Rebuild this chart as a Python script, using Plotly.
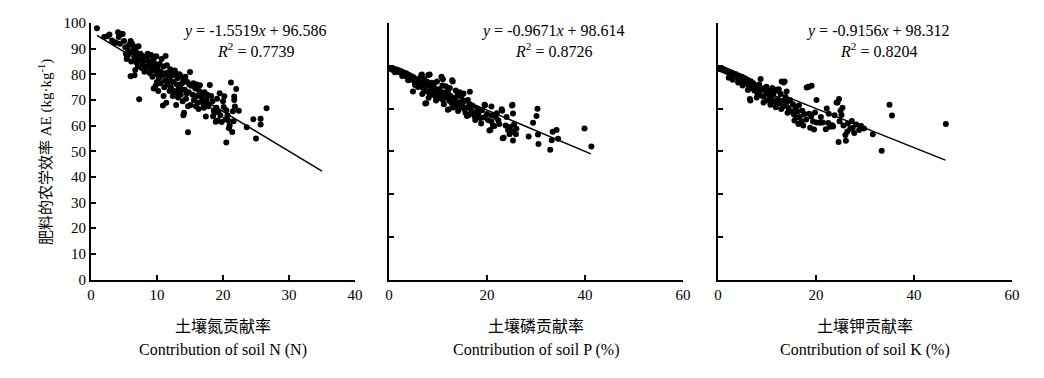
import plotly.graph_objects as go

# ---------------- data ----------------
n_x = [0.9, 2.0, 2.5, 2.8, 3.2, 3.6, 3.8, 4.1, 4.4, 4.5, 4.8, 4.2, 5.0, 5.2, 5.3, 5.5, 5.6, 5.8, 6.0, 6.2,
       6.3, 6.5, 6.6, 6.8, 7.0, 7.2, 7.3, 7.5, 7.6, 7.8, 8.0, 8.2, 8.4, 8.5, 8.7, 9.0, 9.2, 9.4, 9.5, 9.7,
       9.9, 10.0, 10.1, 10.3, 10.4, 10.6, 10.8, 11.0, 11.2, 11.3, 11.4, 11.6, 11.8, 12.0, 12.1, 12.3, 12.5, 12.6, 12.8, 13.0,
       13.1, 13.3, 13.5, 13.6, 13.8, 14.0, 14.2, 14.4, 14.6, 14.8, 15.0, 15.2, 15.4, 15.6, 15.8, 16.0, 16.2, 16.5, 16.6, 16.8,
       17.0, 17.2, 17.4, 17.5, 17.8, 18.0, 18.2, 18.5, 18.7, 19.0, 19.2, 19.5, 19.8, 20.0, 20.1, 20.2, 20.4, 20.5, 20.5, 20.7,
       21.0, 21.2, 21.4, 21.5, 21.6, 21.7, 21.7, 21.8, 22.0, 22.4, 23.6, 24.6, 25.0, 25.7, 25.7, 26.6,
       6.0, 6.6, 6.7, 7.3, 9.5, 9.8, 10.2, 10.9, 11.4, 11.0, 12.9, 14.0, 14.1, 14.7, 14.7, 17.1, 17.8, 18.6,
       5.4, 6.1, 6.9, 7.7, 8.1, 8.9, 9.3, 10.5, 11.1, 11.9, 12.4, 13.2, 13.9, 15.1, 15.9, 16.3, 8.6, 9.1, 10.7, 11.5,
       12.2, 12.7, 13.4, 14.3, 14.9, 16.4, 17.6, 18.4, 19.3, 19.6, 20.8, 20.9, 18.9, 19.1, 13.7, 12.0, 10.0, 11.7, 13.0, 14.5,
       15.5, 16.1, 16.9, 9.6, 8.8, 7.9, 6.4, 5.9, 7.1]
n_y = [98.0, 94.5, 94.8, 95.5, 93.2, 92.5, 92.3, 96.4, 91.9, 95.6, 95.7, 94.5, 93.0, 90.5, 88.0, 87.0, 89.5, 91.5, 93.0, 92.0,
       88.5, 90.0, 86.5, 89.0, 87.5, 90.9, 85.5, 88.0, 86.0, 84.0, 87.0, 85.5, 83.0, 86.5, 82.5, 85.0, 83.5, 81.5, 86.0, 84.0,
       87.0, 80.0, 82.5, 78.5, 84.0, 81.0, 79.5, 83.0, 77.5, 87.1, 80.5, 76.0, 78.5, 82.0, 75.0, 79.5, 77.0, 73.5, 80.5, 76.0,
       78.5, 74.5, 79.5, 72.0, 76.5, 78.0, 74.0, 70.5, 77.0, 73.0, 80.9, 75.5, 72.0, 70.0, 74.5, 76.0, 69.0, 75.7, 72.5, 71.0,
       68.5, 73.0, 63.5, 70.0, 68.0, 75.8, 71.5, 63.6, 65.0, 67.0, 62.0, 72.6, 61.4, 69.5, 67.3, 71.4, 62.5, 53.4, 66.0, 64.0,
       60.0, 76.8, 57.5, 65.6, 61.7, 71.3, 70.0, 67.4, 74.3, 65.8, 59.4, 62.5, 55.0, 62.7, 60.4, 66.8,
       79.2, 79.6, 81.7, 70.3, 74.5, 75.5, 73.5, 67.8, 68.9, 71.5, 68.0, 64.0, 65.0, 67.5, 57.4, 67.0, 67.5, 66.0,
       86.0, 85.0, 84.5, 82.5, 81.0, 80.5, 79.0, 76.5, 75.0, 73.5, 71.5, 71.0, 69.5, 68.0, 67.5, 66.5, 88.0, 87.5, 86.0, 83.5,
       80.5, 81.5, 80.0, 79.0, 76.0, 73.5, 72.0, 69.5, 65.5, 64.0, 62.0, 59.0, 61.5, 70.5, 74.0, 77.5, 77.0, 79.0, 73.0, 72.5,
       76.5, 71.5, 69.5, 82.0, 84.5, 86.5, 91.0, 88.5, 83.0]

p_x = [0.2, 0.5, 0.8, 1.0, 1.3, 1.5, 1.8, 2.0, 2.3, 2.5, 2.8, 3.0, 3.2, 3.5, 3.7, 4.0, 4.2, 4.5, 4.7, 4.9,
       5.0, 5.2, 5.5, 5.7, 6.0, 6.2, 6.5, 6.6, 6.7, 6.8, 7.0, 7.2, 7.4, 7.5, 7.6, 7.8, 8.0, 8.0, 8.3, 8.3,
       8.5, 8.8, 9.0, 9.2, 9.5, 9.7, 10.0, 10.2, 10.3, 10.5, 10.7, 10.7, 11.0, 11.0, 11.3, 11.5, 11.9, 12.0, 12.0, 12.2,
       12.3, 12.5, 12.8, 12.9, 13.0, 13.0, 13.3, 13.5, 13.8, 14.0, 14.2, 14.5, 14.8, 15.0, 15.3, 15.5, 15.9, 16.0, 16.1, 16.5,
       16.5, 16.8, 17.0, 17.3, 17.5, 17.8, 18.0, 18.3, 18.6, 19.0, 19.5, 19.6, 20.0, 20.2, 20.5, 20.7, 20.9, 20.9, 21.2, 21.5,
       21.8, 22.3, 22.5, 23.0, 23.1, 23.2, 23.4, 23.8, 24.0, 24.3, 24.7, 25.1, 25.2, 25.3, 25.3, 25.3, 25.5, 25.9, 28.5, 29.4,
       30.1, 30.3, 30.4, 30.5, 32.9, 33.2, 33.4, 34.2, 34.5, 39.9, 41.3,
       1.2, 2.7, 3.9, 5.3, 5.9, 6.3, 7.1, 7.7, 8.7, 9.3, 9.8, 10.9, 11.6, 12.4, 13.6, 14.4, 15.2, 9.6, 11.2, 13.1,
       14.1, 15.6, 16.3, 17.6, 18.8, 19.3, 21.0, 22.0, 24.6, 26.0, 8.1, 6.8]
p_y = [98.8, 98.4, 98.0, 98.6, 97.6, 98.2, 97.2, 97.9, 96.8, 97.4, 96.0, 96.9, 95.4, 96.5, 94.8, 95.8, 94.0, 95.2, 93.4, 87.9,
       94.6, 92.5, 93.8, 91.6, 93.0, 90.8, 92.2, 95.7, 95.9, 89.9, 91.5, 88.8, 82.3, 90.6, 82.5, 88.0, 95.7, 91.0, 95.9, 87.2,
       89.6, 86.4, 90.2, 88.6, 85.6, 89.0, 87.4, 84.8, 89.0, 88.0, 94.9, 86.0, 93.7, 84.0, 87.5, 85.2, 85.4, 79.4, 88.0, 79.6,
       83.6, 86.0, 82.5, 93.2, 92.6, 85.0, 81.8, 84.2, 83.0, 86.5, 80.5, 82.8, 85.6, 81.0, 79.8, 83.5, 76.5, 80.6, 84.0, 87.8,
       82.0, 79.0, 81.4, 77.8, 76.2, 76.5, 80.0, 78.0, 75.5, 79.2, 81.7, 81.5, 77.4, 74.6, 69.7, 69.9, 80.9, 73.9, 71.9, 71.8,
       76.0, 74.5, 72.8, 79.6, 79.0, 66.1, 66.3, 72.0, 76.0, 70.0, 71.4, 81.4, 81.8, 77.7, 69.2, 65.0, 72.5, 68.0, 66.9, 73.3,
       76.5, 79.9, 67.8, 63.4, 60.7, 65.2, 69.1, 69.9, 65.8, 70.6, 62.2,
       97.0, 95.2, 93.2, 91.0, 90.0, 94.2, 93.8, 92.6, 92.0, 91.8, 92.6, 90.8, 90.4, 89.6, 88.4, 87.6, 87.0, 83.8, 82.0, 80.5,
       78.8, 78.0, 77.0, 74.6, 73.0, 75.8, 76.8, 77.8, 68.0, 70.5, 85.0, 86.8]

k_x = [0.1, 0.4, 0.7, 1.0, 1.2, 1.5, 1.8, 2.0, 2.3, 2.6, 2.9, 3.1, 3.4, 3.7, 4.0, 4.3, 4.6, 4.9, 5.2, 5.5,
       5.8, 6.0, 6.3, 6.5, 6.6, 6.7, 7.0, 7.2, 7.4, 7.7, 8.0, 8.2, 8.5, 8.7, 8.9, 9.2, 9.5, 9.8, 10.0, 10.2,
       10.5, 10.8, 11.0, 11.3, 11.6, 11.9, 12.2, 12.5, 12.8, 13.0, 13.4, 13.6, 13.2, 13.5, 13.8, 14.1, 14.4, 14.7, 15.0, 15.3,
       15.5, 15.8, 16.0, 16.2, 16.5, 16.7, 17.0, 17.2, 17.6, 18.0, 18.1, 18.4, 18.5, 19.1, 18.6, 19.0, 19.4, 19.8, 20.1, 20.1,
       20.8, 21.4, 22.0, 22.2, 22.5, 22.9, 23.3, 23.5, 24.2, 24.4, 24.7, 24.6, 24.8, 25.0, 25.2, 25.4, 25.6, 26.1, 26.4, 26.5,
       27.0, 27.3, 27.5, 28.2, 28.8, 29.2, 29.8, 31.6, 33.4, 35.0, 35.5, 46.5,
       3.0, 5.0, 6.1, 7.9, 9.3, 10.7, 11.8, 12.9, 14.2, 15.6, 16.4, 17.4, 18.8, 19.6, 21.0, 23.8, 22.6, 26.0, 27.8, 2.2,
       4.1, 8.4, 9.9, 11.1, 12.4, 14.0]
k_y = [98.8, 98.5, 98.2, 98.6, 97.8, 98.0, 97.2, 97.6, 96.6, 97.0, 95.8, 96.5, 95.2, 96.0, 94.6, 95.3, 93.8, 94.8, 92.8, 94.2,
       91.6, 93.5, 90.6, 84.4, 83.7, 92.8, 89.6, 91.8, 88.4, 90.8, 87.4, 89.8, 86.4, 93.8, 88.8, 85.6, 89.6, 87.0, 83.7, 88.4,
       85.4, 87.8, 84.2, 86.6, 83.0, 88.8, 84.6, 82.4, 86.8, 92.6, 92.2, 92.6, 83.6, 81.0, 85.4, 83.0, 80.2, 84.0, 78.6, 82.0,
       77.2, 80.4, 75.8, 78.6, 81.4, 76.0, 73.8, 79.0, 77.4, 74.8, 89.8, 90.0, 90.2, 90.6, 77.6, 76.2, 73.9, 78.1, 84.0, 73.5,
       73.3, 73.5, 70.3, 80.0, 73.2, 71.5, 72.2, 71.6, 82.8, 82.8, 84.5, 64.3, 74.0, 79.0, 77.0, 80.3, 72.0, 64.9, 69.2, 73.0,
       70.5, 74.2, 71.0, 72.5, 70.0, 71.8, 70.6, 68.0, 60.2, 81.7, 76.7, 72.8,
       93.4, 90.8, 88.6, 85.2, 82.8, 81.8, 80.6, 79.8, 78.0, 74.4, 72.8, 72.0, 71.0, 70.2, 76.0, 76.8, 77.6, 67.6, 68.5, 94.4,
       92.2, 91.2, 90.2, 89.6, 89.0, 88.0]

# regression results (slope, intercept, R2, fitted x-range)
slopes = [-1.5519, -0.9671, -0.9156]
intercepts = [96.586, 98.614, 98.312]
r2 = ["0.7739", "0.8726", "0.8204"]
fit_start = [0.9, 0.0, 0.0]
fit_end = [35.0, 41.2, 46.4]

x_ranges = [[0, 40], [0, 60], [0, 60]]
x_dticks = [10, 20, 20]
y_ranges = [[0, 100], [0, 120], [0, 120]]
y_dticks = [10, 20, 20]
title_cn = ["土壤氮贡献率", "土壤磷贡献率", "土壤钾贡献率"]
title_en = ["Contribution of soil N (N)", "Contribution of soil P (%)", "Contribution of soil K (%)"]
y_title = "肥料的农学效率 AE (kg·kg<sup>-1</sup>)"

xs = [n_x, p_x, k_x]
ys = [n_y, p_y, k_y]

# ---------------- figure ----------------
W, H = 1044, 378
OFF = 8  # page body margin: figure is drawn 8px from the window edges
FONT = "Liberation Serif, Times New Roman, Noto Sans CJK SC, serif"


def px_x(v):
    return (v - OFF) / W


def px_y(v):
    return (H - (v - OFF)) / H


x_dom_px = [(91, 355), (389, 683), (718, 1012)]
y_dom_px = (23, 279.5)
ydom = [px_y(y_dom_px[1]), px_y(y_dom_px[0])]

fig = go.Figure()
annotations = []
for i in range(3):
    suffix = "" if i == 0 else str(i + 1)
    xa = "x" + suffix
    ya = "y" + suffix
    fig.add_trace(go.Scatter(x=xs[i], y=ys[i], mode="markers", xaxis=xa, yaxis=ya,
                             marker=dict(color="black", size=6), showlegend=False, hoverinfo="skip"))
    lx = [fit_start[i], fit_end[i]]
    ly = [slopes[i] * v + intercepts[i] for v in lx]
    fig.add_trace(go.Scatter(x=lx, y=ly, mode="lines", xaxis=xa, yaxis=ya,
                             line=dict(color="black", width=1.5), showlegend=False, hoverinfo="skip"))
    xd = [px_x(x_dom_px[i][0]), px_x(x_dom_px[i][1])]
    common = dict(showline=True, linecolor="black", linewidth=2, ticks="inside", ticklen=5,
                  tickwidth=1.5, tickcolor="black", showgrid=False, zeroline=False, automargin=False,
                  tickfont=dict(family=FONT, size=15, color="black"))
    fig.layout["xaxis" + suffix] = dict(domain=xd, range=x_ranges[i], dtick=x_dticks[i], tick0=0,
                                        anchor=ya, **common)
    fig.layout["yaxis" + suffix] = dict(domain=ydom, range=y_ranges[i], dtick=y_dticks[i], tick0=0,
                                        anchor=xa, showticklabels=(i == 0), **common)
    cx = (px_x(x_dom_px[i][0]) + px_x(x_dom_px[i][1])) / 2
    eq = f"<i>y</i> = {slopes[i]:.4f}<i>x</i> + {intercepts[i]:.3f}"
    eq_cx = px_x([255, 553, 878][i])
    annotations.append(dict(xref="paper", yref="paper", x=eq_cx, y=px_y(31), text=eq,
                            showarrow=False, xanchor="center", yanchor="middle",
                            font=dict(family=FONT, size=16, color="black")))
    annotations.append(dict(xref="paper", yref="paper", x=eq_cx, y=px_y(50),
                            text=f"<i>R</i><sup>2</sup> = {r2[i]}",
                            showarrow=False, xanchor="center", yanchor="middle",
                            font=dict(family=FONT, size=16, color="black")))
    annotations.append(dict(xref="paper", yref="paper", x=cx, y=px_y(326), text=title_cn[i],
                            showarrow=False, xanchor="center", yanchor="middle",
                            font=dict(family=FONT, size=16, color="black")))
    annotations.append(dict(xref="paper", yref="paper", x=cx, y=px_y(350), text=title_en[i],
                            showarrow=False, xanchor="center", yanchor="middle",
                            font=dict(family=FONT, size=16, color="black")))

annotations.append(dict(xref="paper", yref="paper", x=px_x(45), y=px_y(152), text=y_title,
                        textangle=-90, showarrow=False, xanchor="center", yanchor="middle",
                        font=dict(family=FONT, size=15, color="black")))

fig.update_layout(width=W, height=H, margin=dict(l=0, r=0, t=0, b=0, autoexpand=False),
                  plot_bgcolor="white", paper_bgcolor="white", annotations=annotations,
                  font=dict(family=FONT, color="black"))
fig.write_html("out.html")
